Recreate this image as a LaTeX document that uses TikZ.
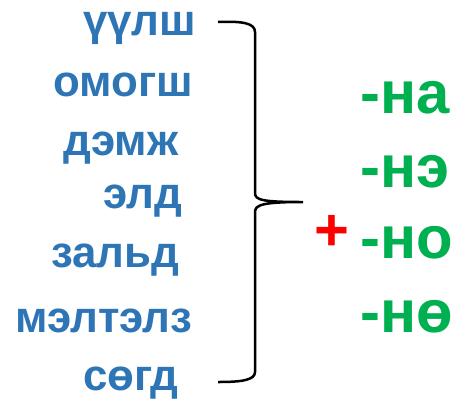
\documentclass[tikz,border=0pt]{standalone}
\usepackage{fontspec}
\setmainfont{Liberation Sans}
\definecolor{wordblue}{HTML}{2E75B6}
\definecolor{endgreen}{HTML}{00B050}
\definecolor{plusred}{HTML}{FF0000}

\begin{document}
\begin{tikzpicture}[x=1bp,y=-1bp,
  word/.style={anchor=base west,inner sep=0pt,text=wordblue,font=\fontsize{44}{44}\selectfont\bfseries},
  ending/.style={anchor=base west,inner sep=0pt,text=endgreen,font=\fontsize{60}{60}\selectfont\bfseries}]
  \useasboundingbox (0,0) rectangle (472,410);
  \node[word] at (83,35) (w1) {үүлш};
  \node[word] at (53,96) (w2) {омогш};
  \node[word] at (63,155) (w3) {дэмж};
  \node[word] at (103,208) (w4) {элд};
  \node[word] at (51,267) (w5) {зальд};
  \node[word] at (15,332) (w6) {мэлтэлз};
  \node[word] at (83,390) (w7) {сөгд};
  \draw[line width=2.5bp] (218,22) .. controls (242,21) and (255,23) .. (255,32) -- (255,193) .. controls (255,200) and (262,202) .. (303,202)
    .. controls (262,202) and (255,205) .. (255,212) -- (255,372) .. controls (255,380) and (242,382) .. (218,382);
  \node[inner sep=0pt,text=plusred,font=\fontsize{60}{60}\selectfont\bfseries] at (332,233) (plus) {+};
  \node[ending] at (360,113) (e1) {-на};
  \node[ending] at (360,187) (e2) {-нэ};
  \node[ending] at (360,258) (e3) {-но};
  \node[ending] at (360,332) (e4) {-нө};
\end{tikzpicture}
\end{document}
